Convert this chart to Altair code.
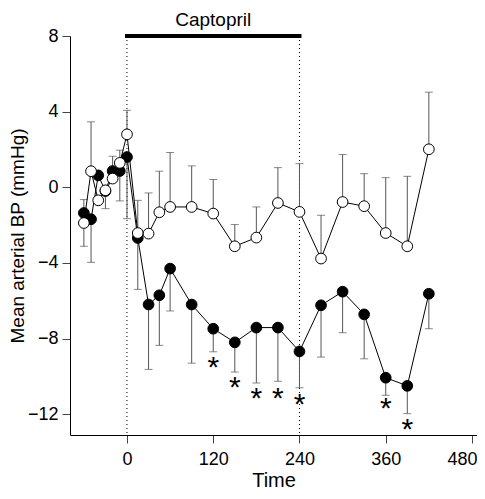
import altair as alt
import pandas as pd

times = [-60, -50, -40, -30, -20, -10, 0, 15, 30, 45, 60, 90, 120, 150, 180,
         210, 240, 270, 300, 330, 360, 390, 420]
open_vals = [-1.89, 0.85, -0.69, -0.16, 0.46, 1.29, 2.8, -2.42, -2.45, -1.32, -1.04,
             -1.04, -1.39, -3.12, -2.66, -0.83, -1.3, -3.77, -0.78, -1.0, -2.42, -3.12, 2.01]
open_err_end = [-3.12, 3.46, None, -1.13, 1.64, 1.96, 4.07, -0.69, -0.3, 0.85, 1.84,
                1.13, 0.41, -1.97, -1.04, 1.04, 1.25, -1.48, 1.73, 0.72, 0.51, 0.58, 5.03]
filled_vals = [-1.36, -1.69, 0.63, -0.2, 0.86, 0.86, 1.6, -2.68, -6.2, -5.71, -4.3,
               -6.2, -7.48, -8.2, -7.42, -7.42, -8.68, -6.24, -5.52, -6.72, -10.07, -10.5, -5.63]
filled_err_end = [-0.65, -3.97, None, None, None, -0.72, -1.66, -5.4, -9.63, -8.36, -6.54,
                  -9.3, -8.7, -9.77, -10.35, -10.26, -10.6, -8.98, -7.69, -9.07, -11.0, -11.97, -7.48]
star_times = [120, 150, 180, 210, 240, 360, 390]
star_vals = [-9.19, -10.25, -10.83, -10.83, -11.15, -11.36, -12.47]
drug_start, drug_end = 0, 240
drug_label = "Captopril"
x_ticks = [0, 120, 240, 360, 480]
y_ticks = [-12, -8, -4, 0, 4, 8]

FONT = "Liberation Sans"

df_open = pd.DataFrame({"t": times, "v": open_vals, "e": open_err_end})
df_filled = pd.DataFrame({"t": times, "v": filled_vals, "e": filled_err_end})
df_err_open = df_open.dropna()
df_err_filled = df_filled.dropna()
df_star = pd.DataFrame({"t": star_times, "v": star_vals})
df_drug = pd.DataFrame({"t": [drug_start], "t2": [drug_end], "mid": [(drug_start + drug_end) / 2],
                        "label": [drug_label]})
df_vlines = pd.DataFrame({"t": [drug_start, drug_end]})

xs = alt.Scale(domain=[-79.3, 487], nice=False, zero=False)
ys = alt.Scale(domain=[-13.1, 8], nice=False, zero=False)

X = alt.X("t:Q", scale=xs, axis=alt.Axis(values=x_ticks, title="Time", grid=False,
          domainColor="black", tickColor="#444", tickSize=8, labelFont=FONT, labelFontSize=18,
          labelColor="black", labelPadding=7, titleFont=FONT, titleFontSize=20,
          titleFontWeight="normal", titleColor="black", titleBaseline="alphabetic",
          titleY=51, labelFlush=12, labelFlushOffset=5))
Y = alt.Y("v:Q", scale=ys, axis=alt.Axis(values=y_ticks, title="Mean arterial BP (mmHg)",
          grid=False, domainColor="black", tickColor="#444", tickSize=8, labelFont=FONT,
          labelFontSize=18, labelColor="black", labelPadding=4, titleFont=FONT,
          titleFontSize=19, titleFontWeight="normal", titleColor="black", titlePadding=0,
          labelFlush=False))

def errbars(df):
    base = alt.Chart(df)
    r = base.mark_rule(color="#555", strokeWidth=1).encode(x=X, y=Y, y2="e:Q")
    c = base.mark_tick(orient="horizontal", color="#555", size=8, thickness=1).encode(
        x=X, y=alt.Y("e:Q", scale=ys))
    return r + c

vlines = alt.Chart(df_vlines).mark_rule(color="black", strokeWidth=1, strokeDash=[1, 3]).encode(
    x=alt.X("t:Q", scale=xs), y=alt.value(4), y2=alt.value(399))

drug_bar = alt.Chart(df_drug).mark_rule(color="black", strokeWidth=4, strokeCap="square").encode(
    x=alt.X("t:Q", scale=xs), x2="t2:Q", y=alt.value(0))
drug_text = alt.Chart(df_drug).mark_text(font=FONT, fontSize=19, baseline="alphabetic",
                                         align="center", color="black").encode(
    x=alt.X("mid:Q", scale=xs), y=alt.value(-10), text="label:N")

line_filled = alt.Chart(df_filled).mark_line(color="black", strokeWidth=1).encode(x=X, y=Y)
line_open = alt.Chart(df_open).mark_line(color="black", strokeWidth=1).encode(x=X, y=Y)
pts_filled = alt.Chart(df_filled).mark_point(shape="circle", filled=True, fill="black",
                                             stroke="black", strokeWidth=1, size=115,
                                             opacity=1).encode(x=X, y=Y)
pts_open = alt.Chart(df_open).mark_point(shape="circle", filled=True, fill="white",
                                         stroke="black", strokeWidth=1, size=115,
                                         opacity=1).encode(x=X, y=Y)
stars = alt.Chart(df_star).mark_text(text="*", font=FONT, fontSize=30, baseline="alphabetic",
                                     align="center", dy=16, color="black").encode(x=X, y=Y)

chart = alt.layer(
    vlines, errbars(df_err_filled), errbars(df_err_open), line_filled, line_open,
    pts_filled, pts_open, stars, drug_bar, drug_text
).properties(
    width=407, height=399,
    padding={"left": 62, "top": 28, "right": 0, "bottom": 56},
    autosize=alt.AutoSizeParams(type="none"),
).configure_view(stroke=None).configure_axis(domainWidth=1, tickWidth=1)

chart.save("out.html", embed_options={"renderer": "svg", "actions": False})
